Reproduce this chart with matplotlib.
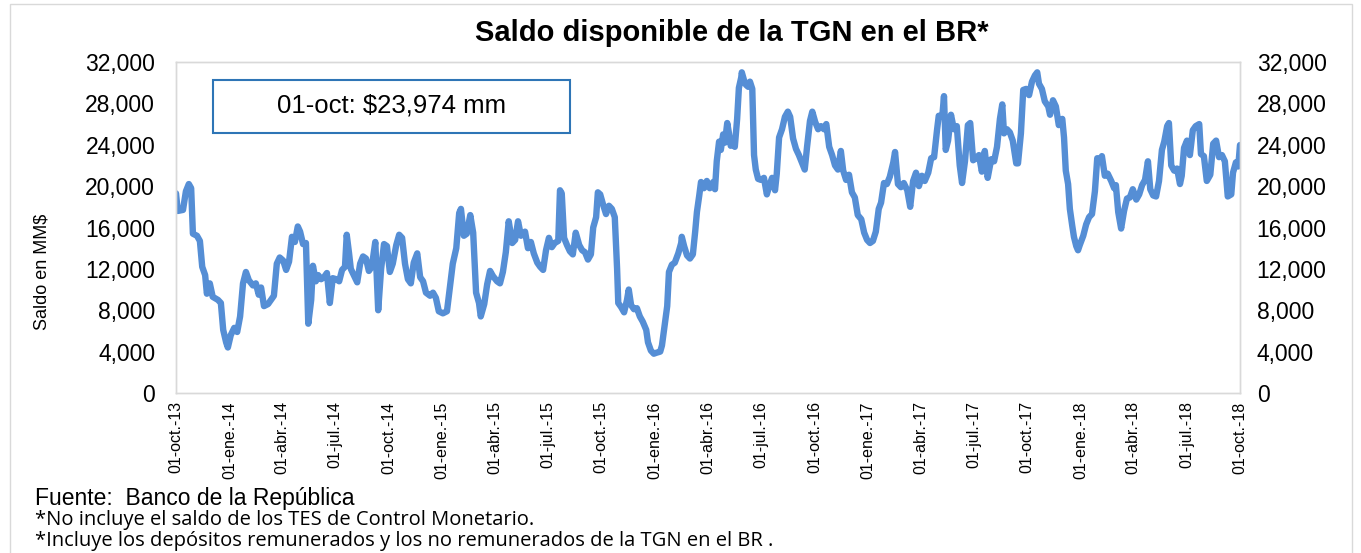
import matplotlib.pyplot as plt
import pandas as pd
from matplotlib.patches import Rectangle
from matplotlib.ticker import FuncFormatter

# Saldo disponible de la TGN en el BR (MM$)
fecha_inicio = "2013-10-01"
fecha_fin = "2018-10-01"

# dias transcurridos desde el 01-oct-13
dias = [
    0, 3, 12, 17, 22, 26, 29, 36, 41, 45,
    50, 53, 58, 63, 72, 77, 81, 86, 89, 94,
    100, 105, 110, 115, 120, 125, 132, 137, 142, 146,
    151, 158, 163, 168, 173, 178, 184, 189, 194, 199,
    204, 209, 213, 218, 223, 227, 232, 235, 240, 244,
    249, 254, 259, 264, 269, 275, 280, 285, 290, 293,
    297, 300, 305, 311, 316, 321, 326, 331, 336, 342,
    347, 352, 357, 362, 367, 372, 378, 383, 388, 393,
    398, 403, 408, 414, 419, 424, 429, 436, 441, 446,
    451, 458, 465, 470, 475, 481, 486, 489, 494, 499,
    505, 510, 515, 520, 523, 529, 534, 539, 544, 551,
    556, 561, 566, 571, 577, 582, 587, 592, 599, 604,
    609, 614, 620, 625, 630, 635, 640, 645, 650, 656,
    659, 662, 666, 671, 676, 681, 686, 692, 697, 702,
    707, 712, 716, 721, 724, 728, 733, 738, 743, 748,
    753, 757, 759, 764, 769, 774, 777, 781, 786, 791,
    796, 801, 807, 810, 815, 820, 825, 831, 834, 839,
    843, 846, 851, 856, 862, 867, 868, 872, 877, 882,
    887, 891, 894, 898, 901, 906, 911, 916, 922, 925,
    928, 932, 935, 939, 942, 946, 949, 952, 956, 959,
    963, 966, 970, 971, 975, 978, 982, 985, 989, 992,
    995, 999, 1004, 1009, 1014, 1018, 1023, 1028, 1031, 1035,
    1040, 1045, 1050, 1054, 1059, 1064, 1069, 1074, 1079, 1083,
    1088, 1092, 1097, 1102, 1107, 1112, 1116, 1121, 1126, 1131,
    1136, 1141, 1145, 1150, 1155, 1160, 1165, 1170, 1176, 1181,
    1186, 1191, 1196, 1201, 1206, 1210, 1215, 1220, 1225, 1231,
    1234, 1239, 1244, 1249, 1255, 1260, 1265, 1270, 1275, 1280,
    1285, 1291, 1296, 1301, 1306, 1309, 1315, 1318, 1321, 1325,
    1330, 1335, 1340, 1345, 1349, 1354, 1359, 1363, 1368, 1373,
    1378, 1383, 1388, 1393, 1399, 1404, 1409, 1414, 1418, 1421,
    1426, 1431, 1436, 1442, 1445, 1450, 1454, 1459, 1464, 1469,
    1474, 1478, 1481, 1486, 1491, 1497, 1500, 1505, 1510, 1515,
    1521, 1524, 1527, 1531, 1534, 1538, 1541, 1545, 1548, 1551,
    1557, 1562, 1567, 1572, 1577, 1581, 1586, 1589, 1594, 1599,
    1605, 1610, 1613, 1617, 1622, 1627, 1632, 1637, 1642, 1648,
    1653, 1658, 1663, 1668, 1672, 1677, 1682, 1687, 1692, 1696,
    1701, 1704, 1708, 1713, 1718, 1723, 1726, 1730, 1735, 1740,
    1745, 1750, 1756, 1759, 1764, 1769, 1775, 1780, 1785, 1790,
    1795, 1800, 1805, 1811, 1814, 1819, 1823, 1826,
]

saldo = [
    19300, 17600, 17700, 19500, 20200, 19800, 15400, 15200, 14700, 12200,
    11400, 9600, 10600, 9300, 9000, 8700, 6100, 4900, 4400, 5600,
    6300, 5900, 7400, 10600, 11700, 10900, 10400, 10600, 9500, 10200,
    8400, 8600, 9000, 9400, 12500, 13100, 12800, 11900, 12700, 15100,
    14600, 16100, 15600, 14400, 14500, 6700, 9000, 12300, 10800, 11400,
    11000, 11200, 11600, 8700, 11100, 11000, 10800, 11900, 12200, 15300,
    13500, 12000, 11400, 10700, 12500, 13200, 13000, 11800, 12200, 14600,
    8000, 12000, 14400, 14200, 11700, 12500, 14300, 15300, 15000, 12500,
    11000, 10600, 12600, 13500, 11200, 10800, 9700, 9400, 9700, 9200,
    7900, 7700, 7900, 10200, 12500, 14000, 17400, 17800, 15200, 15400,
    17200, 15500, 9700, 8700, 7400, 8600, 10500, 11800, 11300, 10800,
    10600, 11700, 13600, 16600, 14500, 14800, 16600, 15200, 15600, 14000,
    14600, 13500, 12600, 12200, 11900, 13800, 15000, 14100, 14500, 14700,
    19600, 19300, 15000, 14300, 13700, 13400, 15500, 14300, 13800, 13600,
    12900, 13400, 16000, 17000, 19400, 19200, 18200, 17300, 18100, 17800,
    17000, 12000, 8700, 8300, 7800, 9000, 10000, 8500, 8100, 8200,
    7400, 6900, 6100, 4900, 4100, 3800, 3900, 4000, 4600, 6700,
    8400, 11700, 12400, 12600, 13500, 14500, 15100, 14200, 13300, 13000,
    13400, 15600, 17500, 19100, 20400, 19800, 20500, 19800, 20400, 19700,
    22400, 24300, 23500, 25000, 24200, 26100, 25100, 23900, 24500, 23800,
    26500, 29500, 30500, 31000, 30200, 29800, 29600, 30100, 29400, 23000,
    21600, 20700, 20600, 20800, 19200, 20000, 20800, 19600, 21200, 24700,
    25500, 26700, 27200, 26700, 24600, 23600, 23000, 22300, 21600, 23800,
    26300, 27200, 26200, 25500, 25800, 25500, 26000, 23800, 23000, 22000,
    21600, 23400, 21500, 20600, 21100, 19400, 18900, 17200, 16800, 15500,
    14800, 14500, 14700, 15600, 17800, 18400, 20300, 20200, 20900, 22300,
    23300, 20200, 19900, 20300, 19600, 18000, 20500, 21300, 20000, 21000,
    20500, 21300, 22700, 22800, 25400, 26800, 26700, 28700, 23500, 24400,
    26900, 25500, 25800, 22000, 20300, 22400, 25900, 26100, 22500, 22700,
    23000, 21400, 23400, 20800, 22600, 22400, 23800, 26500, 27900, 25100,
    25500, 25200, 24400, 22200, 22200, 25100, 29300, 29400, 28800, 30100,
    30700, 31000, 29900, 29400, 28200, 27700, 26900, 28300, 27700, 25900,
    26500, 24700, 21500, 20200, 17800, 16200, 15100, 14200, 13800, 14300,
    15200, 16300, 17000, 17300, 19500, 22700, 22500, 22900, 21000, 21200,
    20500, 19800, 20100, 17500, 15900, 17600, 18800, 18900, 19700, 18700,
    19200, 20100, 20600, 22400, 19700, 19100, 19000, 20500, 23500, 24300,
    25800, 26100, 22000, 21500, 21700, 20200, 21000, 23700, 24400, 23000,
    25400, 25800, 26000, 23100, 22900, 20500, 21100, 24100, 24400, 22800,
    23000, 22400, 19000, 19200, 21300, 22300, 21900, 23974,
]

etiquetas = [
    "01-oct.-13", "01-ene.-14", "01-abr.-14", "01-jul.-14", "01-oct.-14",
    "01-ene.-15", "01-abr.-15", "01-jul.-15", "01-oct.-15", "01-ene.-16",
    "01-abr.-16", "01-jul.-16", "01-oct.-16", "01-ene.-17", "01-abr.-17",
    "01-jul.-17", "01-oct.-17", "01-ene.-18", "01-abr.-18", "01-jul.-18",
    "01-oct.-18",
]

titulo = "Saldo disponible de la TGN en el BR*"
dato_final = "01-oct: $23,974 mm"
notas = [
    "*No incluye el saldo de los TES de Control Monetario.",
    "*Incluye los depósitos remunerados y los no remunerados de la TGN en el BR .",
]

fechas = pd.Timestamp(fecha_inicio) + pd.to_timedelta(dias, unit="D")
ticks = pd.date_range(fecha_inicio, fecha_fin, freq="QS-OCT")

plt.rcParams["font.family"] = ["Liberation Sans", "DejaVu Sans"]

W, H = 1361, 553
fig = plt.figure(figsize=(W / 100, H / 100), dpi=100)
ax = fig.add_axes([176 / W, 1 - 393 / H, (1240 - 176) / W, (393 - 62) / H])

ax.plot(fechas, saldo, color="#558ED5", lw=4.6, solid_joinstyle="round",
        solid_capstyle="round")

ax.set_xlim(pd.Timestamp(fecha_inicio), pd.Timestamp(fecha_fin))
ax.set_ylim(0, 32000)
ax.set_yticks(range(0, 32001, 4000))
ax.set_xticks(ticks)
ax.set_xticklabels(etiquetas, rotation=90, fontsize=11.5)
miles = FuncFormatter(lambda v, p: f"{v:,.0f}")
ax.yaxis.set_major_formatter(miles)
ax.tick_params(axis="y", length=0, labelsize=16.5, pad=15)
ax.tick_params(axis="x", length=0, pad=6)

ax2 = ax.twinx()
ax2.set_ylim(0, 32000)
ax2.set_yticks(range(0, 32001, 4000))
ax2.yaxis.set_major_formatter(miles)
ax2.tick_params(axis="y", length=0, labelsize=16.5, pad=12)

for a in (ax, ax2):
    for s in a.spines.values():
        s.set_color("#d9d9d9")
        s.set_linewidth(1)

fig.text(42 / W, 1 - 272 / H, "Saldo en MM$", rotation=90, ha="center",
         va="center", fontsize=13)

fig.text(732 / W, 1 - 33 / H, titulo, ha="center", va="center",
         fontsize=21, fontweight="bold")

# recuadro con el ultimo dato
fig.patches.append(Rectangle((213 / W, 1 - 133 / H), 357 / W, 53 / H,
                             transform=fig.transFigure, fill=True,
                             facecolor="white", edgecolor="#2E75B6", lw=1.5))
fig.text(392 / W, 1 - 106 / H, dato_final, ha="center", va="center",
         fontsize=18.5)

fig.text(35 / W, 1 - 498 / H, "Fuente:  Banco de la República", ha="left",
         va="center", fontsize=16.5)
fig.text(35 / W, 1 - 520 / H, notas[0], ha="left", va="center",
         fontsize=14.5, family=["Open Sans", "DejaVu Sans"])
fig.text(35 / W, 1 - 541 / H, notas[1], ha="left", va="center",
         fontsize=14.5, family=["Open Sans", "DejaVu Sans"])

# marco exterior
fig.patches.append(Rectangle((10 / W, -0.01), 1342 / W, 1.01 - 4 / H,
                             transform=fig.transFigure, fill=False,
                             edgecolor="#d9d9d9", lw=1))

fig.savefig("out.png", dpi=100)
